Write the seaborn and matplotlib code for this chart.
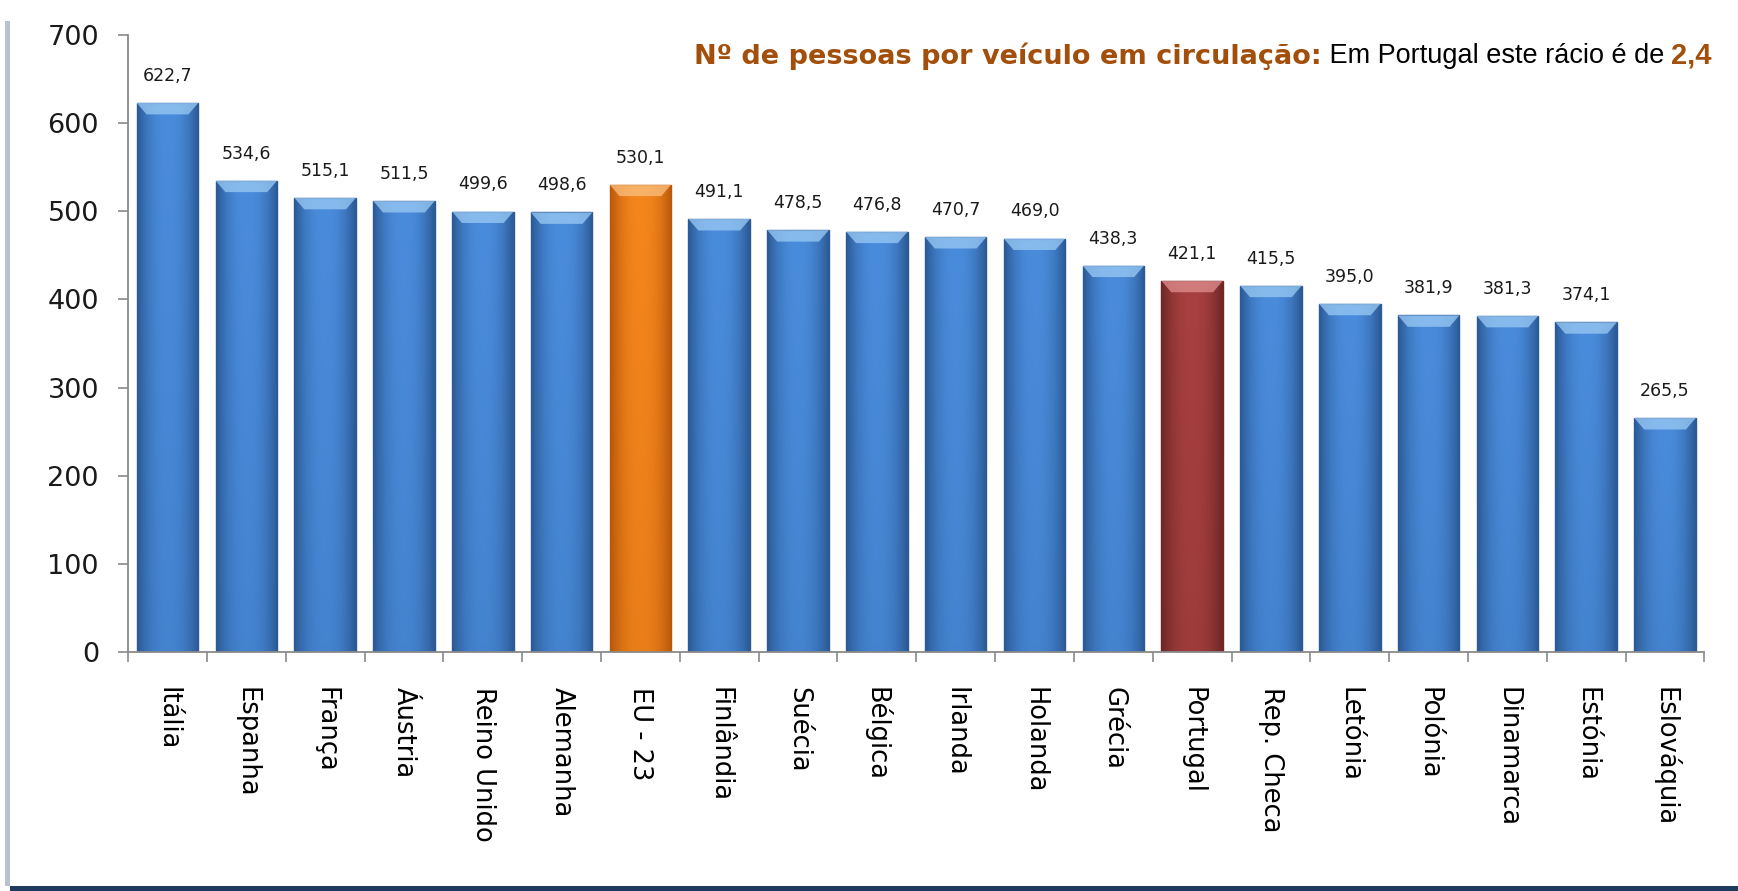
import numpy as np
import pandas as pd
import matplotlib.pyplot as plt
import matplotlib.patches as mpatches
import matplotlib.colors as mcolors
import seaborn as sns

sns.set_theme(style="white")
plt.rcParams["font.family"] = ["DejaVu Sans"]

# data
countries = ["Itália", "Espanha", "França", "Áustria", "Reino Unido", "Alemanha",
             "EU - 23", "Finlândia", "Suécia", "Bélgica", "Irlanda", "Holanda",
             "Grécia", "Portugal", "Rep. Checa", "Letónia", "Polónia",
             "Dinamarca", "Estónia", "Eslováquia"]
values = [622.7, 534.6, 515.1, 511.5, 499.6, 498.6, 530.1, 491.1, 478.5, 476.8,
          470.7, 469.0, 438.3, 421.1, 415.5, 395.0, 381.9, 381.3, 374.1, 265.5]
y_ticks = [0, 100, 200, 300, 400, 500, 600, 700]

df = pd.DataFrame({"pais": countries, "valor": values})

BLUE, ORANGE, RED = "#3F80D0", "#F07A12", "#9E3838"
# (dark edge, light centre, top cap) for the bevelled look
SHADES = {BLUE: ("#2B5A95", "#4A8CDC", "#9CCBF5"),
          ORANGE: ("#B8580A", "#F5861C", "#FBC080"),
          RED: ("#6E2626", "#A84040", "#E09090")}
colors = [ORANGE if c == "EU - 23" else RED if c == "Portugal" else BLUE
          for c in countries]
palette = dict(zip(countries, colors))

fig = plt.figure(figsize=(17.38, 8.91), dpi=100)
ax = fig.add_axes([0.0737, 0.268, 0.907, 0.693])

sns.barplot(data=df, x="pais", y="valor", hue="pais", palette=palette,
            legend=False, width=0.78, saturation=1, ax=ax)

# gradient fill + lighter bevel cap on each bar
prof = np.linspace(-1, 1, 64)
horiz = 1 - np.abs(prof) ** 2.2
for patch, col in zip(list(ax.patches), colors):
    dark, light, cap = SHADES[col]
    cmap = mcolors.LinearSegmentedColormap.from_list("b", [dark, light])
    x0, w, h = patch.get_x(), patch.get_width(), patch.get_height()
    vert = np.linspace(0.82, 1.0, 40)[:, None]
    grad = horiz[None, :] * vert
    im = ax.imshow(grad, extent=[x0, x0 + w, 0, h], origin="lower",
                   aspect="auto", cmap=cmap, vmin=0, vmax=1, zorder=2)
    im.set_clip_path(patch)
    patch.set_edgecolor(dark)
    patch.set_linewidth(1.0)
    patch.set_zorder(2.5)
    patch.set_facecolor("none")
    ins = w * 0.16
    ax.add_patch(mpatches.Polygon([(x0, h), (x0 + w, h), (x0 + w - ins, h - 13),
                                   (x0 + ins, h - 13)], closed=True,
                                  facecolor=cap, edgecolor="none", alpha=0.75,
                                  zorder=3))

for i, v in enumerate(values):
    ax.annotate(f"{v:.1f}".replace(".", ","), (i, v), xytext=(0, 13),
                textcoords="offset points", ha="center", va="bottom",
                fontsize=12.5, color="#1a1a1a")

ax.set_xlim(-0.5, len(countries) - 0.5)
ax.set_ylim(0, 700)
ax.set_yticks(y_ticks)
ax.set_xlabel("")
ax.set_ylabel("")

ax.set_xticks(np.arange(len(countries)))
ax.set_xticklabels(countries, rotation=270, fontsize=18.5, color="black")
ax.set_xticks(np.arange(len(countries) + 1) - 0.5, minor=True)
ax.tick_params(axis="x", which="major", length=0, pad=25)
ax.tick_params(axis="x", which="minor", length=7, width=1.2, color="#8a8a8a",
               direction="out", bottom=True)
ax.tick_params(axis="y", length=7, width=1.2, color="#8a8a8a", direction="out",
               left=True, pad=14, labelsize=19.5, labelcolor="#1a1a1a")

sns.despine(ax=ax, top=True, right=True)
for s in ["left", "bottom"]:
    ax.spines[s].set_color("#8a8a8a")
    ax.spines[s].set_linewidth(1.3)

# title made of three differently styled pieces, right aligned
brown = "#A34F0C"
fig.canvas.draw()
r = fig.canvas.get_renderer()
x_right = 1712 / 1738
y_mid = 1 - 56 / 891
pieces = [("Nº de pessoas por veículo em circulação:", brown, "bold", 19.5,
           ["DejaVu Sans"]),
          (" Em Portugal este rácio é de ", "black", "normal", 19.5,
           ["Liberation Sans", "DejaVu Sans"]),
          ("2,4", brown, "bold", 21, ["Liberation Sans", "DejaVu Sans"])]
for txt, col, wt, fs, fam in reversed(pieces):
    t = fig.text(x_right, y_mid, txt, ha="right", va="center", color=col,
                 fontweight=wt, fontsize=fs, family=fam)
    bb = t.get_window_extent(renderer=r)
    x_right = bb.x0 / fig.bbox.width

# frame: left shadow line and dark bottom bar
fig.patches.append(mpatches.Rectangle((0.003, 0.006), 0.003, 0.97,
                                      transform=fig.transFigure,
                                      facecolor="#b9c3cf", edgecolor="none"))
fig.patches.append(mpatches.Rectangle((0.006, 0.0), 0.994, 0.006,
                                      transform=fig.transFigure,
                                      facecolor="#1E3A5F", edgecolor="none"))

fig.savefig("out.png", dpi=100)
